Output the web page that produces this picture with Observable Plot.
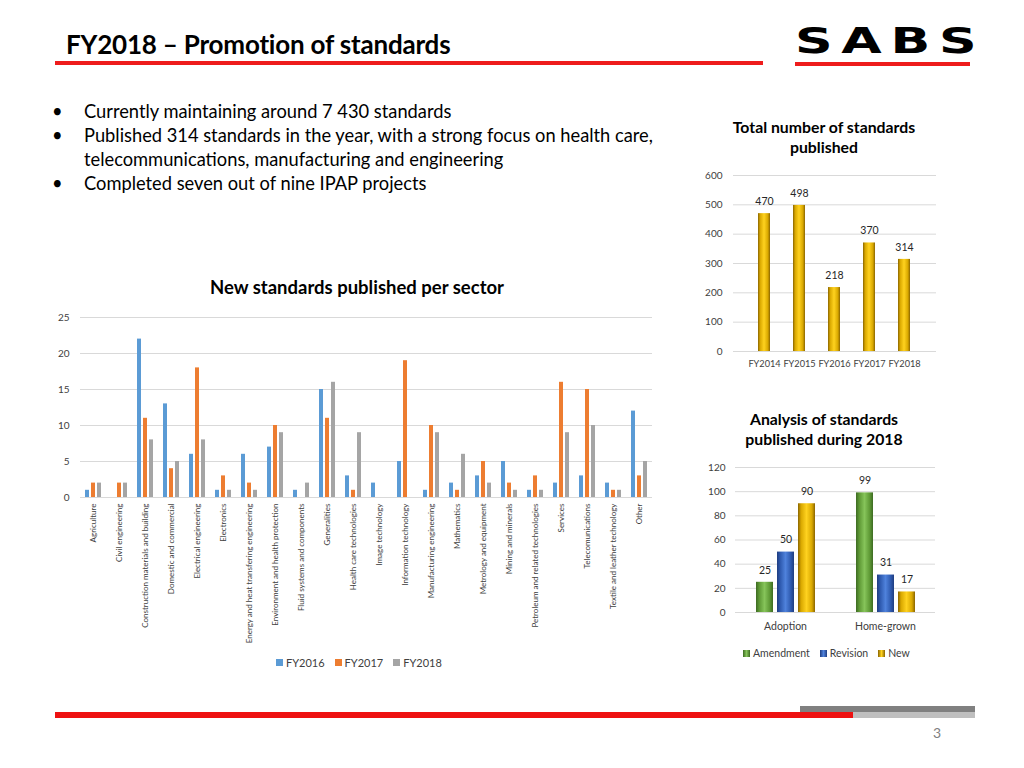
<!DOCTYPE html>
<html>
<head>
<meta charset="utf-8">
<script src="https://cdn.jsdelivr.net/npm/d3@7"></script>
<script src="https://cdn.jsdelivr.net/npm/@observablehq/plot@0.6"></script>
<style>
  html, body { margin: 0; padding: 0; background: #fff; }
  #page { position: relative; width: 1024px; height: 768px; overflow: hidden; font-family: Lato, "Open Sans", sans-serif; color: #000; }
  .abs { position: absolute; }
  .legend { display: flex; align-items: center; font-size: 11px; color: #404040; }
  .legend span.sw { display: inline-block; width: 7px; height: 7px; margin-right: 3px; }
  .legend .item { display: flex; align-items: center; margin-right: 10px; }
  .ctitle { font-weight: bold; font-size: 15.8px; text-align: center; line-height: 20px; color: #000; white-space: nowrap; }
  svg [aria-label^="y-axis"] { font-size: 10px; }
  #c2 svg [aria-label^="x-axis"] { font-size: 9.2px; }
</style>
</head>
<body>
<div id="page">
  <svg width="0" height="0" style="position:absolute">
    <defs>
      <linearGradient id="gGold" x1="0" x2="1" y1="0" y2="0">
        <stop offset="0" stop-color="#8a6500"/>
        <stop offset="0.18" stop-color="#d9a800"/>
        <stop offset="0.5" stop-color="#ffd21f"/>
        <stop offset="0.82" stop-color="#d9a800"/>
        <stop offset="1" stop-color="#8a6500"/>
      </linearGradient>
      <linearGradient id="gGreen" x1="0" x2="1" y1="0" y2="0">
        <stop offset="0" stop-color="#3d6b22"/>
        <stop offset="0.2" stop-color="#5f9a36"/>
        <stop offset="0.5" stop-color="#86c45a"/>
        <stop offset="0.8" stop-color="#5f9a36"/>
        <stop offset="1" stop-color="#3d6b22"/>
      </linearGradient>
      <linearGradient id="gBlue" x1="0" x2="1" y1="0" y2="0">
        <stop offset="0" stop-color="#1f3d80"/>
        <stop offset="0.2" stop-color="#2f5bb0"/>
        <stop offset="0.5" stop-color="#4f82dc"/>
        <stop offset="0.8" stop-color="#2f5bb0"/>
        <stop offset="1" stop-color="#1f3d80"/>
      </linearGradient>
    </defs>
  </svg>

  <!-- Header -->
  <div class="abs" style="left:66px; top:28px; font-weight:bold; font-size:26px; line-height:32px; letter-spacing:-0.2px; white-space:nowrap;">FY2018 – Promotion of standards</div>
  <div class="abs" style="left:55px; top:61px; width:708px; height:4px; background:#ee1c1c;"></div>
  <div class="abs" style="left:795px; top:21px; height:40px; font-family:'DejaVu Sans'; font-weight:bold; font-size:36px; line-height:40px; letter-spacing:6px; white-space:nowrap; transform-origin:0 50%; transform:scaleX(1.45);">SABS</div>
  <div class="abs" style="left:795px; top:62px; width:175px; height:4px; background:#ee1c1c;"></div>

  <!-- Bullets -->
  <div class="abs" style="left:52px; top:99px; font-size:18.3px; line-height:24px; color:#000; white-space:nowrap;">
    <div style="display:flex"><span style="width:32px">•</span><span>Currently maintaining around 7 430 standards</span></div>
    <div style="display:flex"><span style="width:32px; flex:none">•</span><span>Published 314 standards in the year, with a strong focus on health care,<br>telecommunications, manufacturing and engineering</span></div>
    <div style="display:flex"><span style="width:32px">•</span><span>Completed seven out of nine IPAP projects</span></div>
  </div>

  <!-- Chart 1 -->
  <div class="abs ctitle" style="left:157px; top:276px; width:400px; font-size:18.5px; line-height:22px;">New standards published per sector</div>
  <div id="c1" class="abs" style="left:40px; top:305px;"></div>
  <div class="abs legend" style="left:276px; top:656px;">
    <div class="item"><span class="sw" style="background:#5B9BD5"></span>FY2016</div>
    <div class="item"><span class="sw" style="background:#ED7D31"></span>FY2017</div>
    <div class="item"><span class="sw" style="background:#A5A5A5"></span>FY2018</div>
  </div>

  <!-- Chart 2 -->
  <div class="abs ctitle" style="left:724px; top:117px; width:200px;">Total number of standards<br>published</div>
  <div id="c2" class="abs" style="left:700px; top:165px;"></div>

  <!-- Chart 3 -->
  <div class="abs ctitle" style="left:714px; top:409px; width:220px;">Analysis of standards<br>published during 2018</div>
  <div id="c3" class="abs" style="left:700px; top:457px;"></div>
  <div class="abs legend" style="left:743px; top:647px; font-size:10.5px;">
    <div class="item"><span class="sw" style="background:linear-gradient(90deg,#3d6b22,#86c45a,#3d6b22)"></span>Amendment</div>
    <div class="item"><span class="sw" style="background:linear-gradient(90deg,#1f3d80,#4f82dc,#1f3d80)"></span>Revision</div>
    <div class="item"><span class="sw" style="background:linear-gradient(90deg,#8a6500,#ffd21f,#8a6500)"></span>New</div>
  </div>

  <!-- Footer -->
  <div class="abs" style="left:800px; top:706px; width:175px; height:6px; background:#808080;"></div>
  <div class="abs" style="left:55px; top:712px; width:798px; height:6px; background:#ee1111;"></div>
  <div class="abs" style="left:853px; top:712px; width:122px; height:6px; background:#bfbfbf;"></div>
  <div class="abs" style="left:933px; top:724px; font-size:14px; color:#808080;">3</div>
</div>

<script>
// ---------- Data ----------
const sectors = [
  "Agriculture", "Civil engineering", "Construction materials and building",
  "Domestic and commercial", "Electrical engineering", "Electronics",
  "Energy and heat transfering engineering", "Environment and health protection",
  "Fluid systems and components", "Generalities", "Health care technologies",
  "Image technology", "Information technology", "Manufacturing engineering",
  "Mathematics", "Metrology and equipment", "Mining and minerals",
  "Petroleum and related technologies", "Services", "Telecomunications",
  "Textile and leather technology", "Other"
];
const years = ["FY2016", "FY2017", "FY2018"];
const fy2016 = [1, 0, 22, 13, 6, 1, 6, 7, 1, 15, 3, 2, 5, 1, 2, 3, 5, 1, 2, 3, 2, 12];
const fy2017 = [2, 2, 11, 4, 18, 3, 2, 10, 0, 11, 1, 0, 19, 10, 1, 5, 2, 3, 16, 15, 1, 3];
const fy2018 = [2, 2, 8, 5, 8, 1, 1, 9, 2, 16, 9, 0, 0, 9, 6, 2, 1, 1, 9, 10, 1, 5];
const yearColors = ["#5B9BD5", "#ED7D31", "#A5A5A5"];
const sectorTicks = [0, 5, 10, 15, 20, 25];

const fiscalYears = ["FY2014", "FY2015", "FY2016", "FY2017", "FY2018"];
const totals = [470, 498, 218, 370, 314];
const totalTicks = [0, 100, 200, 300, 400, 500, 600];

const origins = ["Adoption", "Home-grown"];
const kinds = ["Amendment", "Revision", "New"];
const adoption = [25, 50, 90];
const homegrown = [99, 31, 17];
const kindFills = ["url(#gGreen)", "url(#gBlue)", "url(#gGold)"];
const analysisTicks = [0, 20, 40, 60, 80, 100, 120];

// ---------- Chart 1 ----------
const rows1 = [];
const series = [fy2016, fy2017, fy2018];
sectors.forEach((s, i) => years.forEach((y, j) => rows1.push({sector: s, year: y, value: series[j][i]})));

const c1 = Plot.plot({
  width: 620, height: 342,
  marginLeft: 40, marginRight: 8, marginTop: 12, marginBottom: 150,
  style: {fontFamily: "Lato, 'Open Sans', sans-serif", fontSize: "8px", color: "#404040", background: "transparent", overflow: "visible"},
  fx: {domain: sectors, padding: 0, axis: "bottom", tickRotate: -90, tickSize: 0, tickPadding: 6, label: null},
  x: {domain: years, axis: null, paddingInner: 0.33, paddingOuter: 0.83},
  y: {domain: [0, 25], ticks: sectorTicks, tickSize: 0, tickPadding: 11, label: null},
  color: {domain: years, range: yearColors},
  marks: [
    Plot.ruleY(sectorTicks, {stroke: "#d9d9d9", strokeWidth: 1}),
    Plot.barY(rows1, {fx: "sector", x: "year", y: "value", fill: "year"})
  ]
});
document.getElementById("c1").appendChild(c1);

// ---------- Chart 2 ----------
const rows2 = fiscalYears.map((f, i) => ({fy: f, value: totals[i]}));
const c2 = Plot.plot({
  width: 246, height: 211,
  marginLeft: 33, marginRight: 10, marginTop: 10, marginBottom: 25,
  style: {fontFamily: "Lato, 'Open Sans', sans-serif", fontSize: "10px", color: "#404040", background: "transparent", overflow: "visible"},
  x: {domain: fiscalYears, padding: 0.65, tickSize: 0, tickPadding: 9, label: null},
  y: {domain: [0, 600], ticks: totalTicks, tickSize: 0, tickPadding: 11, label: null},
  marks: [
    Plot.ruleY(totalTicks, {stroke: "#d9d9d9", strokeWidth: 1}),
    Plot.barY(rows2, {x: "fy", y: "value", fill: "url(#gGold)"}),
    Plot.text(rows2, {x: "fy", y: "value", text: d => String(d.value), dy: -12, fontSize: 10.5, fill: "#262626"})
  ]
});
document.getElementById("c2").appendChild(c2);

// ---------- Chart 3 ----------
const rows3 = [];
[adoption, homegrown].forEach((arr, i) => kinds.forEach((k, j) => rows3.push({origin: origins[i], kind: k, value: arr[j]})));
const c3 = Plot.plot({
  width: 245, height: 180,
  marginLeft: 35, marginRight: 10, marginTop: 10, marginBottom: 25,
  style: {fontFamily: "Lato, 'Open Sans', sans-serif", fontSize: "10.5px", color: "#404040", background: "transparent", overflow: "visible"},
  fx: {domain: origins, padding: 0, axis: "bottom", tickSize: 0, tickPadding: 10, label: null},
  x: {domain: kinds, axis: null, paddingInner: 0.21, paddingOuter: 0.93},
  y: {domain: [0, 120], ticks: analysisTicks, tickSize: 0, tickPadding: 10, label: null},
  color: {type: "ordinal", domain: kinds, range: kindFills},
  marks: [
    Plot.ruleY(analysisTicks, {stroke: "#d9d9d9", strokeWidth: 1}),
    Plot.barY(rows3, {fx: "origin", x: "kind", y: "value", fill: "kind"}),
    Plot.text(rows3, {fx: "origin", x: "kind", y: "value", text: d => String(d.value), dy: -12, fontSize: 10.5, fill: "#262626"})
  ]
});
document.getElementById("c3").appendChild(c3);
</script>
</body>
</html>
